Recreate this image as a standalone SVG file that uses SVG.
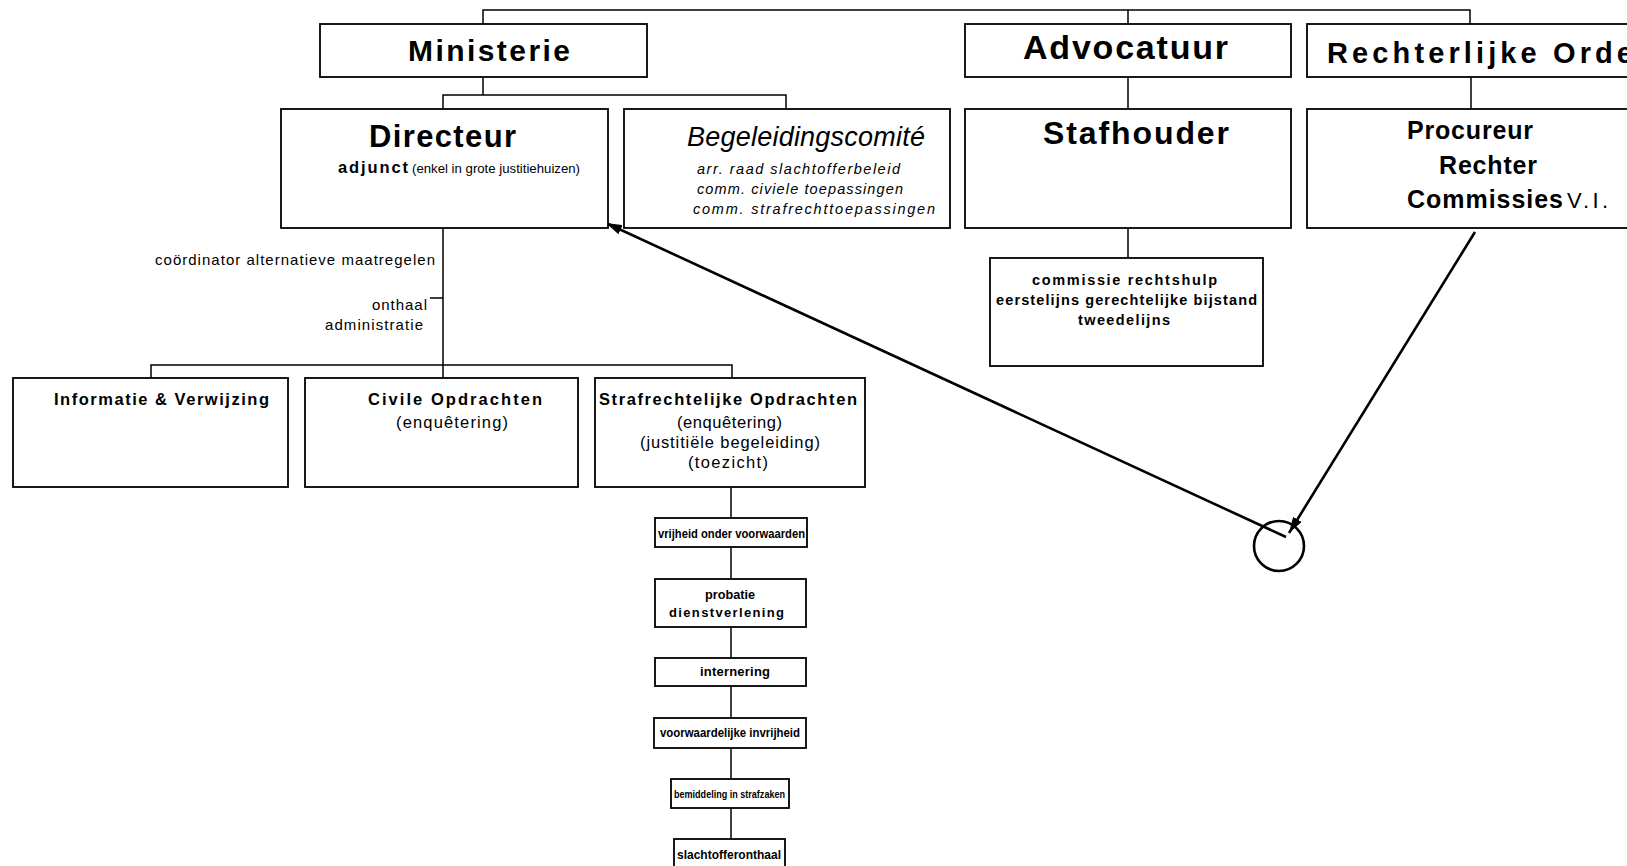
<svg xmlns="http://www.w3.org/2000/svg" width="1627" height="866" viewBox="0 0 1627 866">
<style>
.bg{fill:#fff}
.box{fill:#fff;stroke:#000;stroke-width:1.8}
.ln{fill:none;stroke:#000;stroke-width:1.5}
.arr{fill:none;stroke:#000;stroke-width:2.6}
text{font-family:"Liberation Sans",Arial,sans-serif;fill:#000}
.b{font-weight:bold}
.i{font-style:italic}
</style>
<defs>
<marker id="ah" viewBox="0 0 16 10" refX="16" refY="5" markerWidth="16" markerHeight="10" markerUnits="userSpaceOnUse" orient="auto">
<path d="M0,0 L16,5 L0,10 z" fill="#000"/>
</marker>
</defs>
<rect class="bg" x="0" y="0" width="1627" height="866"/>

<g id="connectors">
<path class="ln" d="M483,77 V10 H1470 V24"/>
<path class="ln" d="M1128,10 V24"/>
<path class="ln" d="M483,77 V95 M443,109 V95 H786 V109"/>
<path class="ln" d="M1128,77 V109 M1471,77 V109"/>
<path class="ln" d="M1128,228 V258"/>
<path class="ln" d="M443,228 V365 M430,298 H443"/>
<path class="ln" d="M151,378 V365 H732 V378 M443,365 V378"/>
<path class="ln" d="M731,487 V866"/>
<path class="arr" d="M1286,537 L606,223" marker-end="url(#ah)"/>
<path class="arr" d="M1475,232 L1289,533" marker-end="url(#ah)"/>
<circle class="arr" cx="1279" cy="546" r="25"/>
</g>

<g id="ministerie">
<rect class="box" x="320" y="24" width="327" height="53"/>
<text class="b" x="408" y="61" font-size="30" textLength="162" lengthAdjust="spacing">Ministerie</text>
</g>
<g id="advocatuur">
<rect class="box" x="965" y="24" width="326" height="53"/>
<text class="b" x="1023" y="59" font-size="34" textLength="205" lengthAdjust="spacing">Advocatuur</text>
</g>
<g id="rechterlijke-orde">
<rect class="box" x="1307" y="24" width="340" height="53"/>
<text class="b" x="1327" y="63" font-size="29" textLength="306" lengthAdjust="spacing">Rechterlijke Orde</text>
</g>

<g id="directeur">
<rect class="box" x="281" y="109" width="327" height="119"/>
<text class="b" x="369" y="147" font-size="31" textLength="147" lengthAdjust="spacing">Directeur</text>
<text class="b" x="338" y="173" font-size="16.5" textLength="70" lengthAdjust="spacing">adjunct</text>
<text x="412" y="173" font-size="12.5" textLength="168" lengthAdjust="spacingAndGlyphs">(enkel in grote justitiehuizen)</text>
</g>
<g id="begeleidingscomite">
<rect class="box" x="624" y="109" width="326" height="119"/>
<text class="i" x="687" y="146" font-size="27" textLength="238" lengthAdjust="spacing">Begeleidingscomité</text>
<text class="i" x="697" y="174" font-size="14.5" textLength="203" lengthAdjust="spacing">arr. raad slachtofferbeleid</text>
<text class="i" x="697" y="194" font-size="14.5" textLength="206" lengthAdjust="spacing">comm. civiele toepassingen</text>
<text class="i" x="693" y="214" font-size="14.5" textLength="242" lengthAdjust="spacing">comm. strafrechttoepassingen</text>
</g>
<g id="stafhouder">
<rect class="box" x="965" y="109" width="326" height="119"/>
<text class="b" x="1043" y="144" font-size="32" textLength="186" lengthAdjust="spacing">Stafhouder</text>
</g>
<g id="procureur">
<rect class="box" x="1307" y="109" width="340" height="119"/>
<text class="b" x="1407" y="139" font-size="25" textLength="126" lengthAdjust="spacing">Procureur</text>
<text class="b" x="1439" y="174" font-size="25" textLength="98" lengthAdjust="spacing">Rechter</text>
<text class="b" x="1407" y="208" font-size="25" textLength="156" lengthAdjust="spacing">Commissies</text>
<text x="1567" y="208" font-size="22" textLength="41" lengthAdjust="spacing">V.I.</text>
</g>

<g id="commissie-rechtshulp">
<rect class="box" x="990" y="258" width="273" height="108"/>
<text class="b" x="1032" y="285" font-size="14.5" textLength="185" lengthAdjust="spacing">commissie rechtshulp</text>
<text class="b" x="996" y="305" font-size="14.5" textLength="261" lengthAdjust="spacing">eerstelijns gerechtelijke bijstand</text>
<text class="b" x="1078" y="325" font-size="14.5" textLength="92" lengthAdjust="spacing">tweedelijns</text>
</g>

<g id="staf-labels">
<text x="155" y="265" font-size="15" textLength="280" lengthAdjust="spacing">coördinator alternatieve maatregelen</text>
<text x="372" y="310" font-size="15" textLength="55" lengthAdjust="spacing">onthaal</text>
<text x="325" y="330" font-size="15" textLength="98" lengthAdjust="spacing">administratie</text>
</g>

<g id="informatie">
<rect class="box" x="13" y="378" width="275" height="109"/>
<text class="b" x="54" y="405" font-size="16.5" textLength="215" lengthAdjust="spacing">Informatie &amp; Verwijzing</text>
</g>
<g id="civile">
<rect class="box" x="305" y="378" width="273" height="109"/>
<text class="b" x="368" y="405" font-size="16.5" textLength="174" lengthAdjust="spacing">Civile Opdrachten</text>
<text x="396" y="428" font-size="16.5" textLength="112" lengthAdjust="spacing">(enquêtering)</text>
</g>
<g id="strafrechtelijke">
<rect class="box" x="595" y="378" width="270" height="109"/>
<text class="b" x="599" y="405" font-size="16.5" textLength="258" lengthAdjust="spacing">Strafrechtelijke Opdrachten</text>
<text x="677" y="428" font-size="16.5" textLength="105" lengthAdjust="spacing">(enquêtering)</text>
<text x="640" y="448" font-size="16.5" textLength="180" lengthAdjust="spacing">(justitiële begeleiding)</text>
<text x="688" y="468" font-size="16.5" textLength="80" lengthAdjust="spacing">(toezicht)</text>
</g>

<g id="vrijheid">
<rect class="box" x="655" y="518" width="152" height="29"/>
<text class="b" x="658" y="538" font-size="12" textLength="147" lengthAdjust="spacingAndGlyphs">vrijheid onder voorwaarden</text>
</g>
<g id="probatie">
<rect class="box" x="655" y="579" width="151" height="48"/>
<text class="b" x="705" y="599" font-size="13" textLength="50" lengthAdjust="spacingAndGlyphs">probatie</text>
<text class="b" x="669" y="617" font-size="13" textLength="115" lengthAdjust="spacing">dienstverlening</text>
</g>
<g id="internering">
<rect class="box" x="655" y="658" width="151" height="28"/>
<text class="b" x="700" y="676" font-size="13" textLength="70" lengthAdjust="spacing">internering</text>
</g>
<g id="voorwaardelijke">
<rect class="box" x="654" y="718" width="152" height="30"/>
<text class="b" x="660" y="737" font-size="12.5" textLength="140" lengthAdjust="spacingAndGlyphs">voorwaardelijke invrijheid</text>
</g>
<g id="bemiddeling">
<rect class="box" x="671" y="779" width="118" height="29"/>
<text class="b" x="674" y="798" font-size="10.5" textLength="111" lengthAdjust="spacingAndGlyphs">bemiddeling in strafzaken</text>
</g>
<g id="slachtofferonthaal">
<rect class="box" x="674" y="839" width="111" height="35"/>
<text class="b" x="677" y="859" font-size="12.5" textLength="104" lengthAdjust="spacingAndGlyphs">slachtofferonthaal</text>
</g>
</svg>
